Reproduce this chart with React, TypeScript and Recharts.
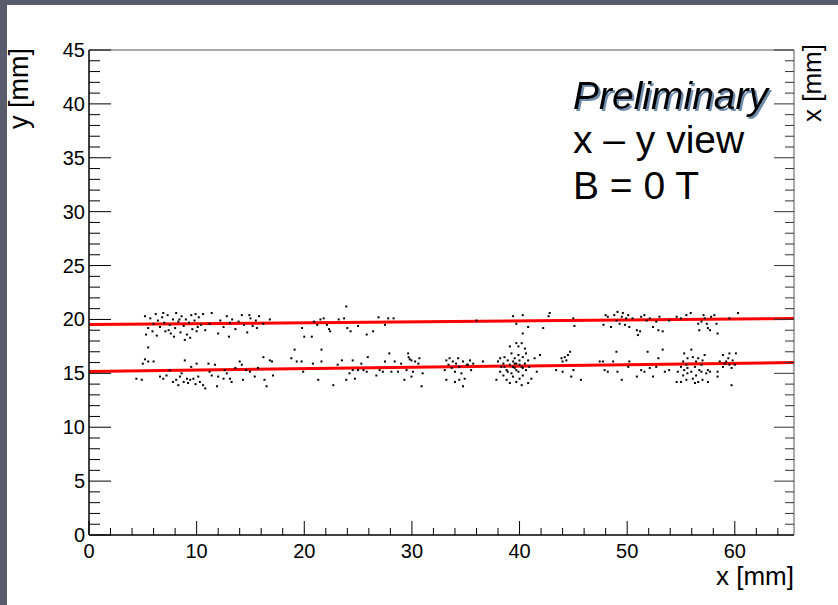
import { ScatterChart, Scatter, XAxis, YAxis, ReferenceLine } from "recharts";

// tick positions (labels only on the majors)
const xTicks = [0, 2, 4, 6, 8, 10, 12, 14, 16, 18, 20, 22, 24, 26, 28, 30, 32, 34, 36, 38, 40, 42, 44, 46, 48, 50, 52, 54, 56, 58, 60, 62, 64];
const yTicks = [0, 1, 2, 3, 4, 5, 6, 7, 8, 9, 10, 11, 12, 13, 14, 15, 16, 17, 18, 19, 20, 21, 22, 23, 24, 25, 26, 27, 28, 29, 30, 31, 32, 33, 34, 35, 36, 37, 38, 39, 40, 41, 42, 43, 44, 45];

// hits on the upper track, [x, y] in mm
const upperHits = [
  [5.2, 20.3], [5.5, 19.2], [5.7, 20.1], [6.0, 19.6], [6.2, 20.5], [6.4, 19.9], [6.6, 19.3], [6.8, 20.2], [7.0, 19.7], [7.1, 18.9],
  [7.3, 20.4], [7.5, 19.5], [7.6, 18.7], [7.8, 20.0], [8.0, 19.2], [8.1, 20.6], [8.3, 19.8], [8.5, 18.8], [8.6, 20.3], [8.8, 19.4],
  [9.0, 20.0], [9.1, 18.6], [9.3, 19.7], [9.5, 20.4], [9.6, 19.1], [9.8, 19.9], [10.0, 18.9], [10.2, 20.2], [10.4, 19.5], [10.6, 20.5],
  [10.8, 19.0], [6.3, 18.5], [7.9, 18.4], [9.4, 18.3], [5.9, 18.9], [11.2, 19.6], [11.4, 20.6], [8.9, 18.1], [5.3, 18.6], [6.9, 20.6],
  [8.4, 20.0], [9.9, 20.5], [7.4, 19.0], [10.1, 19.3],
  [12.2, 19.9], [12.5, 19.3], [12.8, 20.3], [13.1, 19.7], [13.3, 20.0], [13.6, 19.1], [13.9, 19.8], [14.2, 20.4], [14.4, 19.5], [14.7, 18.8],
  [15.0, 20.1], [15.2, 19.4], [15.5, 19.9], [15.8, 20.3], [16.2, 19.6], [13.0, 18.4], [12.0, 18.7], [16.8, 20.0], [14.9, 20.4], [15.6, 19.2],
  [20.9, 19.8], [21.5, 20.0], [21.8, 20.1], [22.1, 19.5], [22.3, 19.1], [22.4, 18.9], [21.2, 19.5], [19.8, 19.2], [20.0, 18.4], [20.7, 18.4],
  [23.2, 20.0], [23.7, 20.1], [24.0, 19.2], [24.3, 18.9], [23.9, 21.2], [25.0, 19.4], [25.8, 18.6], [26.4, 18.9], [26.9, 20.2], [27.5, 19.5],
  [27.8, 20.1], [28.3, 20.1],
  [36.0, 19.9], [39.4, 20.3], [40.3, 20.4], [40.3, 18.7], [40.8, 19.3], [39.7, 19.6], [42.2, 19.2], [42.7, 20.3], [40.2, 17.8], [42.8, 20.6],
  [45.0, 20.1], [45.1, 19.4], [47.8, 19.5], [48.0, 20.4], [48.2, 20.25], [48.5, 19.3], [48.8, 20.4], [49.0, 19.9], [49.1, 20.7], [49.3, 19.6],
  [49.5, 20.25], [49.6, 20.6], [49.8, 19.5], [49.9, 20.1], [50.1, 20.4], [50.2, 19.3], [50.5, 20.1], [50.9, 19.0], [51.0, 18.55], [51.2, 18.9],
  [51.3, 20.25], [51.6, 20.4], [51.8, 19.9], [52.1, 20.1], [52.4, 19.3], [52.7, 19.8], [52.9, 19.0], [53.0, 20.25], [53.3, 18.9], [53.9, 19.9],
  [54.6, 20.25], [55.0, 20.1], [55.5, 20.4],
  [55.9, 20.6], [56.6, 19.6], [56.9, 19.8], [57.1, 20.4], [57.2, 20.1], [57.4, 19.6], [57.5, 19.2], [57.7, 19.0], [57.8, 20.25], [58.1, 20.4],
  [58.3, 19.6], [58.4, 18.7], [59.5, 20.1], [60.3, 20.6], [56.7, 19.0],
];

// hits on the lower track, [x, y] in mm
const lowerHits = [
  [4.4, 14.5], [4.9, 14.4], [5.0, 15.9], [5.5, 16.1], [6.0, 16.1], [6.6, 14.7], [6.9, 14.5], [7.2, 14.8], [7.8, 14.2], [8.1, 14.4],
  [8.3, 13.9], [8.45, 14.7], [8.6, 15.0], [8.8, 14.2], [8.9, 16.2], [9.1, 14.5], [9.2, 14.1], [9.4, 14.4], [9.5, 15.6], [9.7, 14.5],
  [10.0, 15.9], [10.15, 14.7], [10.3, 14.2], [10.6, 13.9], [10.8, 13.6], [11.1, 15.9], [11.2, 15.15], [11.4, 14.8], [11.7, 15.8], [11.9, 13.8],
  [12.0, 14.7], [12.5, 14.5], [12.6, 15.3], [12.8, 15.0], [13.1, 14.5], [13.25, 14.2], [13.6, 15.5], [14.0, 16.1], [14.2, 15.8], [14.3, 14.4],
  [14.6, 15.3], [14.95, 15.15], [15.4, 14.7], [15.7, 15.5], [16.2, 16.5], [16.3, 14.4], [16.5, 13.8], [5.5, 17.4], [5.2, 16.3], [7.5, 15.3],
  [9.9, 14.0],
  [16.8, 16.2], [17.0, 16.1], [17.1, 14.8], [18.8, 16.4], [19.1, 17.2], [19.3, 16.1], [19.75, 16.1], [19.9, 15.15], [20.8, 15.9], [21.3, 14.4],
  [21.6, 16.1], [21.6, 17.2], [22.7, 13.9], [23.1, 15.8], [23.5, 16.2], [23.9, 14.4], [24.2, 15.0], [24.5, 16.2], [24.5, 15.3], [24.7, 14.5],
  [25.0, 15.3], [25.3, 15.9], [25.5, 15.3], [25.8, 15.15], [25.9, 16.5], [26.7, 14.8], [27.0, 15.3], [27.3, 15.15], [27.5, 16.1], [27.9, 16.85],
  [28.1, 15.15], [28.4, 16.1], [28.7, 15.15], [29.0, 15.9], [29.3, 14.4], [29.5, 15.3], [29.65, 16.85], [29.7, 16.5], [29.8, 16.3],
  [29.96, 16.2], [30.3, 16.1], [30.6, 15.9], [30.7, 16.4], [30.1, 15.15], [31.0, 15.0], [30.9, 13.8], [29.96, 14.7],
  [33.05, 15.3], [33.2, 16.2], [33.4, 15.8], [33.5, 16.4], [33.7, 15.5], [33.8, 16.1], [34.0, 15.15], [34.1, 15.9], [34.3, 16.4], [34.4, 15.6],
  [34.6, 15.0], [34.75, 16.1], [35.1, 15.8], [35.4, 16.2], [35.5, 15.3], [35.7, 15.9], [33.2, 14.4], [34.0, 14.2], [34.4, 14.4], [34.9, 14.5],
  [34.75, 13.8], [36.6, 16.1], [35.2, 15.8],
  [38.0, 16.1], [38.2, 16.4], [38.3, 15.6], [38.5, 15.9], [38.6, 16.5], [38.8, 15.3], [38.9, 16.2], [39.1, 15.8], [39.25, 16.85], [39.25, 15.0],
  [39.4, 16.1], [39.55, 16.4], [39.55, 15.5], [39.7, 17.8], [39.7, 15.9], [39.9, 16.7], [39.9, 15.15], [40.0, 16.2], [40.0, 14.5], [40.2, 15.6],
  [40.3, 16.5], [40.3, 14.8], [40.5, 15.9], [40.5, 17.3], [40.6, 15.3], [40.8, 16.2], [40.9, 15.6], [41.1, 14.5], [38.8, 14.4], [39.1, 14.1],
  [39.4, 14.7], [39.7, 14.2], [38.5, 14.8], [38.2, 15.15], [40.2, 13.9], [40.6, 16.85], [41.4, 16.4], [41.6, 15.15], [41.9, 16.7], [37.85, 14.4],
  [39.9, 17.5], [39.1, 17.5], [40.8, 14.1], [38.6, 15.6], [39.4, 15.6], [40.0, 15.8], [39.55, 15.9], [40.3, 15.5], [38.9, 15.15], [39.7, 15.3],
  [43.4, 15.3], [43.9, 16.4], [44.0, 16.1], [44.2, 16.5], [44.35, 16.2], [44.5, 16.7], [44.7, 17.0], [44.0, 15.15], [44.8, 14.7], [45.7, 14.4],
  [45.0, 15.3],
  [47.45, 16.1], [47.75, 16.1], [47.9, 15.3], [48.2, 15.15], [48.7, 16.1], [49.0, 17.0], [49.1, 15.15], [49.5, 14.4], [50.1, 15.6], [50.2, 16.1],
  [50.9, 14.7], [51.3, 15.3], [51.6, 15.15], [51.9, 17.0], [52.1, 15.5], [52.4, 14.7], [52.7, 15.6], [52.9, 16.4], [53.3, 17.2], [53.5, 15.15],
  [53.9, 15.3], [54.6, 14.2], [54.7, 15.15],
  [55.0, 15.6], [55.2, 16.1], [55.3, 15.3], [55.5, 15.8], [55.6, 15.0], [55.2, 14.8], [55.5, 14.4], [55.6, 16.4], [55.3, 16.85], [55.0, 14.2],
  [55.6, 15.5], [55.96, 17.2], [56.1, 16.5], [56.3, 15.6], [56.4, 16.1], [56.6, 16.4], [56.7, 15.3], [56.9, 15.8], [57.0, 16.2], [57.2, 16.7],
  [55.96, 15.15], [56.1, 14.5], [56.4, 14.8], [56.3, 14.1], [56.6, 14.2], [56.9, 15.15], [57.0, 14.4], [57.35, 15.0], [57.5, 15.3], [57.7, 15.15],
  [58.4, 15.15], [58.6, 16.1], [58.9, 16.7], [59.05, 15.9], [59.4, 16.4], [59.5, 16.85], [59.5, 15.8], [59.7, 15.5], [59.8, 16.2], [60.0, 15.8],
  [58.4, 14.7], [59.7, 13.9], [60.1, 16.85], [57.5, 14.2], [58.9, 15.6], [59.2, 16.1],
];

// straight-line fits, end points at x = 0 and x = 65.5
const upperFit = [{ x: 0, y: 19.52 }, { x: 65.5, y: 20.08 }];
const lowerFit = [{ x: 0, y: 15.18 }, { x: 65.5, y: 16.0 }];

const FONT = '"Liberation Sans", Arial, Helvetica, sans-serif';

const toPoints = (list: number[][]) => list.map(([x, y]) => ({ x, y }));

function BottomTick(props: any) {
  const { x, y, payload } = props;
  const v = payload.value;
  const major = v % 10 === 0;
  return (
    <g>
      <line x1={x} x2={x} y1={y} y2={y - (major ? 14 : 7)} stroke="#000" />
      {major && (
        <text x={x} y={y + 23} textAnchor="middle" fontSize={20} fontFamily={FONT} fill="#000">
          {v}
        </text>
      )}
    </g>
  );
}

function TopTick(props: any) {
  const { x, y, payload } = props;
  const major = payload.value % 10 === 0;
  return <line x1={x} x2={x} y1={y} y2={y + (major ? 13 : 6)} stroke="#333" />;
}

function LeftTick(props: any) {
  const { x, y, payload } = props;
  const v = payload.value;
  const major = v % 5 === 0;
  return (
    <g>
      <line x1={x} x2={x + (major ? 22 : 11)} y1={y} y2={y} stroke="#000" />
      {major && (
        <text x={x - 4} y={y + 7} textAnchor="end" fontSize={20} fontFamily={FONT} fill="#000">
          {v}
        </text>
      )}
    </g>
  );
}

function RightTick(props: any) {
  const { x, y, payload } = props;
  const major = payload.value % 5 === 0;
  return <line x1={x} x2={x - (major ? 20 : 9)} y1={y} y2={y} stroke="#333" />;
}

const Hit = (p: any) => <rect x={p.cx - 1} y={p.cy - 1} width={2} height={2} fill="#000" />;

export default function App() {
  return (
    <div style={{ position: "absolute", left: 0, top: 0, width: 838, height: 605, background: "#fff", overflow: "hidden" }}>
      {/* canvas frame */}
      <div style={{ position: "absolute", left: 0, top: 0, width: 838, height: 5, background: "#575b6b" }} />
      <div style={{ position: "absolute", left: 0, top: 0, width: 7, height: 605, background: "#575b6b" }} />

      <div style={{ position: "absolute", left: 0, top: 0 }}>
        <ScatterChart width={838} height={605} margin={{ top: 40, right: 24, bottom: 30, left: 29 }}>
          <XAxis
            type="number"
            dataKey="x"
            domain={[0, 65.5]}
            ticks={xTicks}
            interval={0}
            allowDataOverflow
            height={40}
            tickSize={0}
            tickMargin={0}
            tickLine={false}
            axisLine={{ stroke: "#000", strokeWidth: 1.5 }}
            tick={BottomTick}
          />
          <XAxis
            xAxisId="top"
            orientation="top"
            type="number"
            domain={[0, 65.5]}
            ticks={xTicks}
            interval={0}
            allowDataOverflow
            height={10}
            tickSize={0}
            tickMargin={0}
            tickLine={false}
            axisLine={{ stroke: "#555" }}
            tick={TopTick}
          />
          <YAxis
            type="number"
            dataKey="y"
            domain={[0, 45]}
            ticks={yTicks}
            interval={0}
            allowDataOverflow
            width={60}
            tickSize={0}
            tickMargin={0}
            tickLine={false}
            axisLine={{ stroke: "#000", strokeWidth: 1.5 }}
            tick={LeftTick}
          />
          <YAxis
            yAxisId="right"
            orientation="right"
            type="number"
            domain={[0, 45]}
            ticks={yTicks}
            interval={0}
            allowDataOverflow
            width={20}
            tickSize={0}
            tickMargin={0}
            tickLine={false}
            axisLine={{ stroke: "#555" }}
            tick={RightTick}
          />
          <Scatter data={toPoints(upperHits)} shape={Hit} isAnimationActive={false} />
          <Scatter data={toPoints(lowerHits)} shape={Hit} isAnimationActive={false} />
          <ReferenceLine segment={upperFit} stroke="#ff0000" strokeWidth={3} ifOverflow="hidden" />
          <ReferenceLine segment={lowerFit} stroke="#ff0000" strokeWidth={3} ifOverflow="hidden" />
        </ScatterChart>
      </div>

      {/* titles and the text box */}
      <svg width={838} height={605} style={{ position: "absolute", left: 0, top: 0, pointerEvents: "none" }}>
        <defs>
          <filter id="prelimShadow" x="-5%" y="-20%" width="110%" height="140%">
            <feDropShadow dx={2} dy={2} stdDeviation={0.6} floodColor="#4a6f9a" floodOpacity={0.8} />
          </filter>
        </defs>
        <g fontFamily={FONT} fill="#000">
          <text x={28} y={48} transform="rotate(-90 28 48)" textAnchor="end" fontSize={27}>
            y [mm]
          </text>
          <text x={821} y={44} transform="rotate(-90 821 44)" textAnchor="end" fontSize={26}>
            x [mm]
          </text>
          <text x={794} y={585} textAnchor="end" fontSize={26}>
            x [mm]
          </text>
          <text x={573} y={109} fontSize={39} fontStyle="italic" filter="url(#prelimShadow)">
            Preliminary
          </text>
          <text x={573} y={153} fontSize={39}>
            x – y view
          </text>
          <text x={573} y={199} fontSize={39}>
            B = 0 T
          </text>
        </g>
      </svg>
    </div>
  );
}
